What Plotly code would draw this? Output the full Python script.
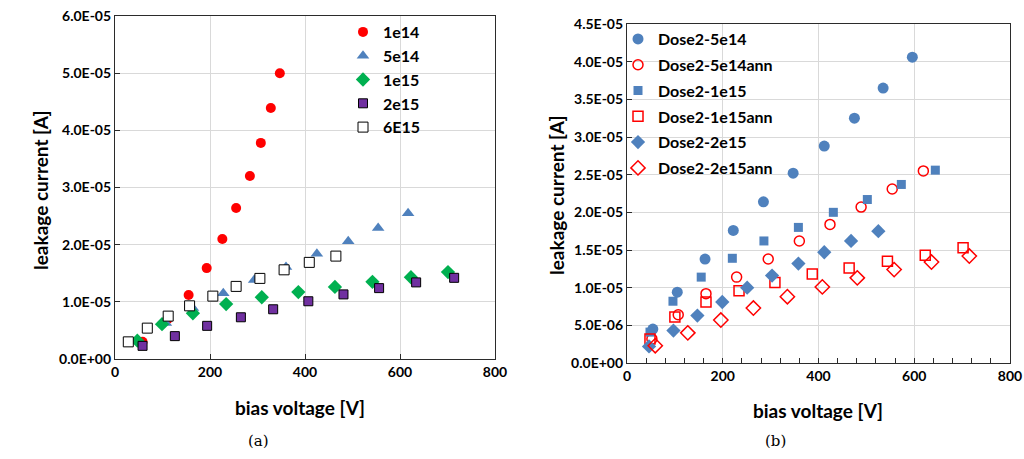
import plotly.graph_objects as go

# ---------------- data: panel (a) ----------------
a_1e14_x = [58, 111, 155, 193, 226, 255, 284, 307, 328, 347]
a_1e14_y = [0.30e-5, 0.70e-5, 1.12e-5, 1.59e-5, 2.10e-5, 2.64e-5, 3.20e-5, 3.78e-5, 4.39e-5, 5.00e-5]
a_5e14_x = [107, 164, 228, 293, 360, 425, 491, 554, 617]
a_5e14_y = [0.63e-5, 0.89e-5, 1.15e-5, 1.38e-5, 1.61e-5, 1.84e-5, 2.06e-5, 2.29e-5, 2.55e-5]
a_1e15_x = [47, 99, 164, 234, 309, 386, 463, 542, 623, 701]
a_1e15_y = [0.32e-5, 0.61e-5, 0.80e-5, 0.96e-5, 1.08e-5, 1.17e-5, 1.26e-5, 1.35e-5, 1.43e-5, 1.52e-5]
a_2e15_x = [58, 126, 194, 265, 333, 407, 481, 556, 634, 714]
a_2e15_y = [0.23e-5, 0.40e-5, 0.58e-5, 0.73e-5, 0.87e-5, 1.01e-5, 1.13e-5, 1.24e-5, 1.34e-5, 1.42e-5]
a_6e15_x = [28, 68, 112, 157, 206, 255, 305, 356, 409, 465]
a_6e15_y = [0.30e-5, 0.54e-5, 0.75e-5, 0.93e-5, 1.10e-5, 1.27e-5, 1.41e-5, 1.56e-5, 1.69e-5, 1.80e-5]

# ---------------- data: panel (b) ----------------
b_5e14_x = [54, 105, 163, 222, 285, 347, 412, 475, 535, 596]
b_5e14_y = [0.45e-5, 0.94e-5, 1.38e-5, 1.76e-5, 2.14e-5, 2.52e-5, 2.88e-5, 3.25e-5, 3.65e-5, 4.06e-5]
b_5e14ann_x = [52, 107, 165, 229, 295, 360, 424, 489, 554, 619]
b_5e14ann_y = [0.32e-5, 0.64e-5, 0.92e-5, 1.14e-5, 1.38e-5, 1.62e-5, 1.84e-5, 2.07e-5, 2.31e-5, 2.55e-5]
b_1e15_x = [48, 96, 155, 220, 286, 358, 431, 502, 573, 644]
b_1e15_y = [0.41e-5, 0.82e-5, 1.14e-5, 1.39e-5, 1.62e-5, 1.80e-5, 2.00e-5, 2.17e-5, 2.37e-5, 2.56e-5]
b_1e15ann_x = [48, 100, 165, 234, 309, 387, 464, 544, 623, 702]
b_1e15ann_y = [0.32e-5, 0.61e-5, 0.81e-5, 0.96e-5, 1.07e-5, 1.18e-5, 1.26e-5, 1.35e-5, 1.43e-5, 1.53e-5]
b_2e15_x = [46, 97, 147, 199, 251, 303, 358, 412, 468, 525]
b_2e15_y = [0.22e-5, 0.43e-5, 0.63e-5, 0.81e-5, 1.00e-5, 1.16e-5, 1.32e-5, 1.47e-5, 1.62e-5, 1.75e-5]
b_2e15ann_x = [59, 127, 196, 264, 335, 408, 481, 558, 636, 715]
b_2e15ann_y = [0.23e-5, 0.40e-5, 0.57e-5, 0.73e-5, 0.88e-5, 1.01e-5, 1.13e-5, 1.24e-5, 1.34e-5, 1.42e-5]

x_ticks = [0, 200, 400, 600, 800]
a_y_ticks = [0, 1e-5, 2e-5, 3e-5, 4e-5, 5e-5, 6e-5]
a_y_labels = ["0.0E+00", "1.0E-05", "2.0E-05", "3.0E-05", "4.0E-05", "5.0E-05", "6.0E-05"]
b_y_ticks = [0, 0.5e-5, 1e-5, 1.5e-5, 2e-5, 2.5e-5, 3e-5, 3.5e-5, 4e-5, 4.5e-5]
b_y_labels = ["0.0E+00", "5.0E-06", "1.0E-05", "1.5E-05", "2.0E-05", "2.5E-05",
              "3.0E-05", "3.5E-05", "4.0E-05", "4.5E-05"]

FONT = "Lato"
BLUE = "#4F81BD"
RED = "#FF0000"

fig = go.Figure()

def add(x, y, name, xa, ya, leg, symbol, size, color, lcolor, lwidth):
    fig.add_trace(go.Scatter(
        x=x, y=y, name=name, mode="markers", xaxis=xa, yaxis=ya, legend=leg,
        legendgroup=name,
        marker=dict(symbol=symbol, size=size, color=color,
                    line=dict(color=lcolor, width=lwidth))))

# panel (a)
add(a_1e14_x, a_1e14_y, "1e14", "x", "y", "legend", "circle", 10, RED, RED, 0)
add(a_5e14_x, a_5e14_y, "5e14", "x", "y", "legend", "triangle-up", 11, BLUE, BLUE, 0)
add(a_1e15_x, a_1e15_y, "1e15", "x", "y", "legend", "diamond", 11, "#00B050", "#00B050", 0)
add(a_2e15_x, a_2e15_y, "2e15", "x", "y", "legend", "square", 9, "#7030A0", "#000000", 1)
add(a_6e15_x, a_6e15_y, "6E15", "x", "y", "legend", "square", 10, "#FFFFFF", "#000000", 1)

# panel (b)
add(b_5e14_x, b_5e14_y, "Dose2-5e14", "x2", "y2", "legend2", "circle", 11, BLUE, BLUE, 0)
add(b_5e14ann_x, b_5e14ann_y, "Dose2-5e14ann", "x2", "y2", "legend2", "circle-open", 10, RED, RED, 1.5)
add(b_1e15_x, b_1e15_y, "Dose2-1e15", "x2", "y2", "legend2", "square", 9, BLUE, BLUE, 0)
add(b_1e15ann_x, b_1e15ann_y, "Dose2-1e15ann", "x2", "y2", "legend2", "square-open", 10, RED, RED, 1.5)
add(b_2e15_x, b_2e15_y, "Dose2-2e15", "x2", "y2", "legend2", "diamond", 11, BLUE, BLUE, 0)
add(b_2e15ann_x, b_2e15ann_y, "Dose2-2e15ann", "x2", "y2", "legend2", "diamond-open", 11, RED, RED, 1.5)

tickfont = dict(family=FONT, size=14, color="#000000", weight="bold")
axis_common = dict(showline=True, mirror=True, linecolor="#2b2b2b", linewidth=1.2,
                   showgrid=True, gridcolor="#d9d9d9", gridwidth=1, zeroline=False,
                   ticks="inside", ticklen=5, tickcolor="#2b2b2b", tickfont=tickfont,
                   automargin=False)

fig.update_layout(
    width=1024, height=459, autosize=False,
    margin=dict(l=0, r=0, t=0, b=0, autoexpand=False),
    paper_bgcolor="white", plot_bgcolor="white",
    xaxis=dict(domain=[115/1024, 495/1024], anchor="y", range=[0, 800],
               tickvals=x_ticks, ticktext=[str(v) for v in x_ticks], **axis_common),
    yaxis=dict(domain=[1-359/459, 1-16/459], anchor="x", range=[0, 6e-5],
               tickvals=a_y_ticks, ticktext=a_y_labels, **axis_common),
    xaxis2=dict(domain=[627/1024, 1010/1024], anchor="y2", range=[0, 800],
                tickvals=x_ticks, ticktext=[str(v) for v in x_ticks],
                minor=dict(dtick=40, tick0=0, ticks="inside", ticklen=5,
                           tickcolor="#2b2b2b", showgrid=False),
                **axis_common),
    yaxis2=dict(domain=[1-363/459, 1-24/459], anchor="x2", range=[0, 4.5e-5],
                tickvals=b_y_ticks, ticktext=b_y_labels, **axis_common),
    legend=dict(x=343/1024, y=1-15/459, xanchor="left", yanchor="top",
                bgcolor="rgba(0,0,0,0)", tracegroupgap=0,
                font=dict(family=FONT, size=16, color="#000000", weight="bold")),
    legend2=dict(x=618/1024, y=1-22/459, xanchor="left", yanchor="top",
                 bgcolor="rgba(0,0,0,0)", tracegroupgap=2,
                 font=dict(family=FONT, size=16, color="#000000", weight="bold")),
)

title_font = dict(family=FONT, size=19, color="#000000", weight="bold")
ann = [
    dict(text="leakage current [A]", x=40/1024, y=1-190/459, textangle=-90, font=title_font),
    dict(text="bias voltage [V]", x=300/1024, y=1-407/459, font=title_font),
    dict(text="leakage current [A]", x=556/1024, y=1-195/459, textangle=-90, font=title_font),
    dict(text="bias voltage [V]", x=818/1024, y=1-410/459, font=title_font),
    dict(text="(a)", x=258/1024, y=1-441/459,
         font=dict(family="DejaVu Serif", size=15, color="#000000")),
    dict(text="(b)", x=775/1024, y=1-441/459,
         font=dict(family="DejaVu Serif", size=15, color="#000000")),
]
for a in ann:
    a.update(xref="paper", yref="paper", showarrow=False, xanchor="center", yanchor="middle")
    fig.add_annotation(**a)

fig.write_html("out.html", config={"displayModeBar": False},
               post_script="document.body.style.margin='0px';document.body.style.padding='0px';")
